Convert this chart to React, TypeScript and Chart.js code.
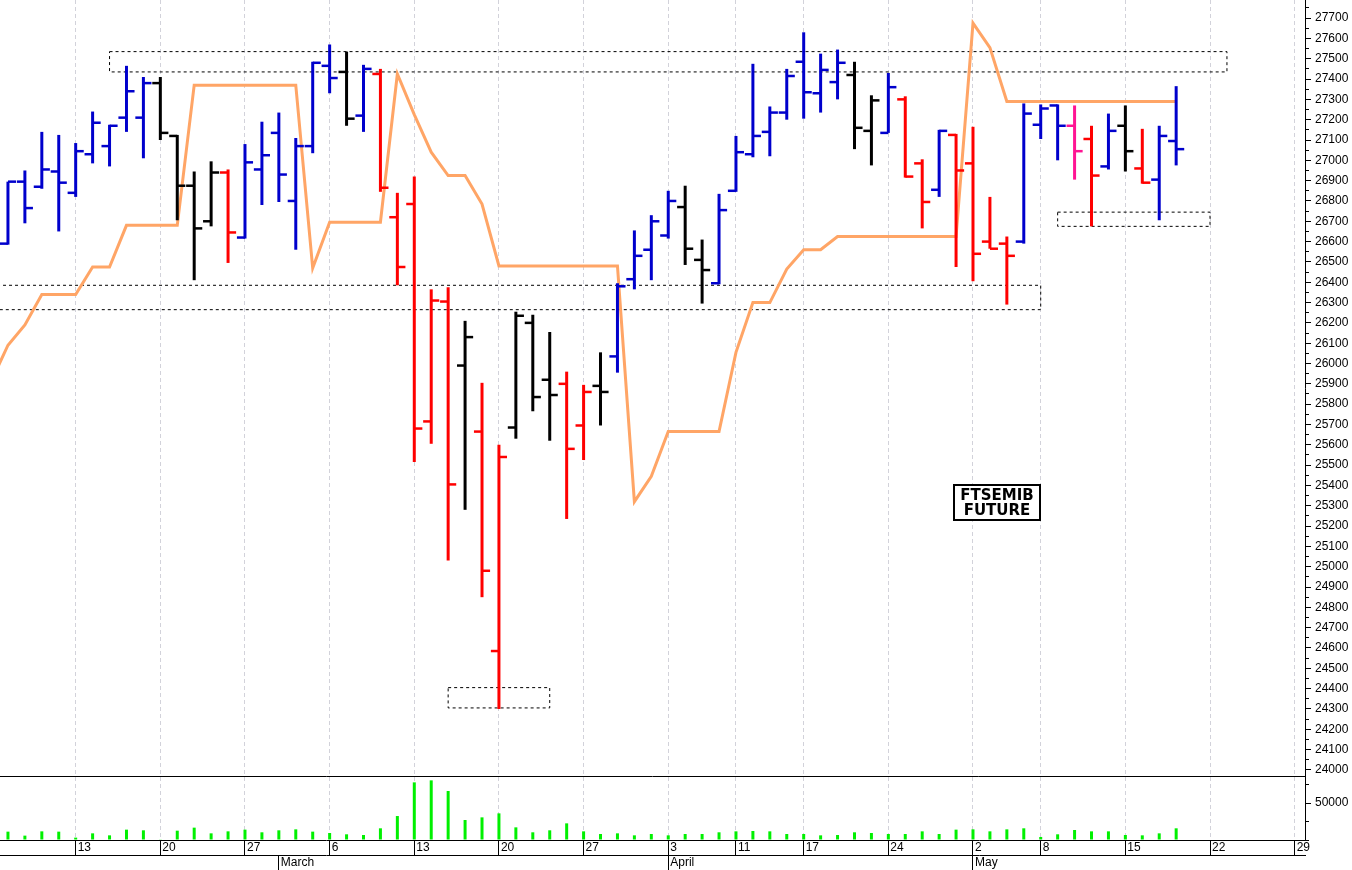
import React, { useEffect, useRef } from 'react';
import { Chart, registerables } from 'chart.js';

Chart.register(...registerables);

// Trading days (2023) shown on the time axis, including the empty days to the right
const DATES: string[] = [
  '02-06', '02-07', '02-08', '02-09', '02-10', '02-13', '02-14', '02-15', '02-16', '02-17',
  '02-20', '02-21', '02-22', '02-23', '02-24', '02-27', '02-28',
  '03-01', '03-02', '03-03', '03-06', '03-07', '03-08', '03-09', '03-10', '03-13', '03-14', '03-15', '03-16', '03-17',
  '03-20', '03-21', '03-22', '03-23', '03-24', '03-27', '03-28', '03-29', '03-30', '03-31',
  '04-03', '04-04', '04-05', '04-06', '04-11', '04-12', '04-13', '04-14', '04-17', '04-18', '04-19', '04-20', '04-21',
  '04-24', '04-25', '04-26', '04-27', '04-28',
  '05-02', '05-03', '05-04', '05-05', '05-08', '05-09', '05-10', '05-11', '05-12', '05-15', '05-16', '05-17', '05-18',
  '05-19', '05-22', '05-23', '05-24', '05-25', '05-26', '05-29',
];

const OPEN: (number | null)[] = [
  null, 26590, 26895, 26870, 26945, 26840, 27030, 27070, 27210, 27210,
  27380, 27120, 26875, 26700, 26940, 26620, 26955,
  27135, 26800, 27070, 27465, 27435, 27220, 27425, 26720, 26785, 25715, 26305, 25990, 25665,
  24585, 25685, 26200, 25920, 25900, 25695, 25890, 26035, 26415, 26560,
  26630, 26770, 26510, 26395, 26850, 27030, 27140, 27235, 27485, 27330, 27385, 27420, 27145,
  27135, 27300, 26985, 26855, 27125,
  26985, 26600, 26590, 26600, 27175, 27270, 27170, 27105, 26970, 27170, 26960, 26905, 27095,
];
const HIGH: (number | null)[] = [
  null, 26895, 26950, 27140, 27125, 27085, 27240, 27175, 27465, 27410,
  27410, 27125, 26945, 26995, 26955, 27080, 27190,
  27235, 27110, 27485, 27570, 27535, 27470, 27450, 26840, 26920, 26365, 26375, 26210, 25905,
  25600, 26255, 26240, 26155, 25960, 25895, 26055, 26395, 26655, 26730,
  26850, 26875, 26610, 26835, 27120, 27475, 27265, 27450, 27630, 27525, 27545, 27485, 27320,
  27430, 27315, 27005, 27150, 27130,
  27165, 26820, 26625, 27280, 27275, 27275, 27270, 27170, 27230, 27270, 27155, 27170, 27365,
];
const LOW: (number | null)[] = [
  null, 26585, 26690, 26860, 26650, 26820, 26985, 26970, 27140, 27010,
  27100, 26705, 26410, 26675, 26495, 26615, 26780,
  26795, 26560, 27035, 27330, 27170, 27140, 26845, 26385, 25515, 25605, 25030, 25280, 24850,
  24300, 25630, 25765, 25620, 25235, 25525, 25695, 25955, 26365, 26410,
  26615, 26485, 26295, 26390, 26845, 27015, 27020, 27200, 27205, 27235, 27300, 27055, 26975,
  27135, 26915, 26665, 26820, 26475,
  26405, 26565, 26290, 26590, 27105, 27000, 26905, 26675, 26955, 26945, 26885, 26705, 26975,
];
const CLOSE: (number | null)[] = [
  null, 26895, 26765, 26955, 26890, 27045, 27185, 27170, 27340, 27380,
  27135, 26875, 26665, 26940, 26645, 26990, 27025,
  26930, 27070, 27480, 27405, 27205, 27450, 26865, 26475, 25680, 26310, 25405, 26130, 24980,
  25540, 26235, 25835, 25845, 25580, 25860, 25860, 26380, 26530, 26700,
  26800, 26565, 26460, 26755, 27040, 27120, 27235, 27415, 27335, 27445, 27480, 27160, 27295,
  27360, 26920, 26795, 27145, 26950,
  26540, 26565, 26530, 27230, 27255, 27170, 27045, 26925, 27145, 27045, 26890, 27120, 27055,
];
// b = blue, k = black, r = red, p = pink
const BAR_COLOR: string[] = [
  '', 'b', 'b', 'b', 'b', 'b', 'b', 'b', 'b', 'b',
  'k', 'k', 'k', 'k', 'r', 'b', 'b',
  'b', 'b', 'b', 'b', 'k', 'b', 'r', 'r', 'r', 'r', 'r', 'k', 'r',
  'r', 'k', 'k', 'k', 'r', 'r', 'k', 'b', 'b', 'b',
  'b', 'k', 'k', 'b', 'b', 'b', 'b', 'b', 'b', 'b', 'b', 'k', 'k',
  'b', 'r', 'r', 'b', 'r',
  'r', 'r', 'r', 'b', 'b', 'b', 'p', 'r', 'b', 'k', 'r', 'b', 'b',
];
// Orange trailing line
const TREND: number[] = [
  25910, 26090, 26190, 26340, 26340, 26340, 26475, 26475, 26680, 26680,
  26680, 26680, 27370, 27370, 27370, 27370, 27370,
  27370, 27370, 26470, 26695, 26695, 26695, 26695, 27425, 27225, 27040, 26925, 26925, 26785,
  26480, 26480, 26480, 26480, 26480, 26480, 26480, 26480, 25320, 25445,
  25665, 25665, 25665, 25665, 26055, 26300, 26300, 26465, 26560, 26560, 26625, 26625, 26625,
  26625, 26625, 26625, 26625, 26625,
  27675, 27555, 27290, 27290, 27290, 27290, 27290, 27290, 27290, 27290, 27290, 27290, 27290,
];
const VOLUME: (number | null)[] = [
  null, 11300, 5900, 11700, 11300, 3200, 9000, 6300, 14000, 13100,
  900, 12600, 16700, 9000, 11700, 14000, 10400,
  13100, 14400, 11300, 9500, 7700, 6800, 15800, 32400, 77900, 80600, 66200, 27000, 30600,
  36000, 17100, 10400, 13100, 22500, 11700, 8100, 9000, 6300, 8100,
  6300, 8100, 8100, 10400, 11700, 12200, 11700, 8100, 8100, 6300, 6800, 10400, 9500,
  8100, 8100, 11700, 8100, 14000,
  14400, 11700, 14400, 15800, 4100, 7700, 13500, 11700, 11700, 6800, 6300, 9000, 15800,
];

// Dashed zones
const BOX_START: string[] = ['02-15', '02-06', '03-15', '05-09'];
const BOX_END: string[] = ['05-23', '05-08', '03-23', '05-22'];
const BOX_HIGH: number[] = [27535, 26385, 24405, 26745];
const BOX_LOW: number[] = [27435, 26265, 24305, 26675];

// Axis labels
const WEEK_TICK_DATES: string[] = ['02-13', '02-20', '02-27', '03-06', '03-13', '03-20', '03-27', '04-03', '04-11', '04-17', '04-24', '05-02', '05-08', '05-15', '05-22', '05-29'];
const WEEK_TICK_LABELS: string[] = ['13', '20', '27', '6', '13', '20', '27', '3', '11', '17', '24', '2', '8', '15', '22', '29'];
const MONTH_TICK_DATES: string[] = ['03-01', '04-03', '05-02'];
const MONTH_TICK_LABELS: string[] = ['March', 'April', 'May'];
const VOLUME_TICKS: number[] = [0, 25000, 50000, 75000];
const VOLUME_LABELLED: number[] = [50000];
const LABEL_LINES: string[] = ['FTSEMIB', 'FUTURE'];

// View window / styles
const X_MIN = 0.53;
const X_MAX = 77.61;
const PRICE_MIN = 23970;
const PRICE_MAX = 27789;
const PRICE_STEP = 50;
const PRICE_LABEL_STEP = 100;
const VOL_MAX = 86500;
const TICK_SHIFT = 0.24;
const PALETTE: Record<string, string> = { b: '#0000CC', k: '#000000', r: '#FF0000', p: '#FF1493' };
const ORANGE = '#FFA566';
const GREEN = '#00F000';
const FONT = "'Liberation Sans', Arial, sans-serif";

const overlayPlugin = {
  id: 'overlay',
  afterDraw(chart: any) {
    const { ctx, chartArea } = chart;
    const yv = chart.scales.yv;
    ctx.save();
    ctx.strokeStyle = '#000';
    ctx.lineWidth = 1;
    ctx.beginPath();
    const yy = Math.round(yv.top) + 0.5;
    ctx.moveTo(chartArea.left, yy);
    ctx.lineTo(chartArea.right, yy);
    ctx.stroke();
    // name box
    const bx = 954, by = 485, bw = 86, bh = 35;
    ctx.fillStyle = '#fff';
    ctx.fillRect(bx, by, bw, bh);
    ctx.lineWidth = 2;
    ctx.strokeRect(bx, by, bw, bh);
    ctx.fillStyle = '#000';
    ctx.font = "bold 15px 'DejaVu Sans', sans-serif";
    ctx.textAlign = 'center';
    ctx.textBaseline = 'middle';
    ctx.fillText(LABEL_LINES[0], bx + bw / 2, by + 11);
    ctx.fillText(LABEL_LINES[1], bx + bw / 2, by + 26.5);
    ctx.restore();
  },
};

export default function App() {
  const ref = useRef<HTMLCanvasElement>(null);

  useEffect(() => {
    document.body.style.margin = '0';
    const canvas = ref.current;
    if (!canvas) return;
    Chart.defaults.font.family = FONT;

    const days = OPEN.map((v, i) => (v == null ? -1 : i)).filter((i) => i >= 0);
    const colors = days.map((i) => PALETTE[BAR_COLOR[i]]);

    const boxSets = BOX_START.map((s, k) => {
      const x1 = DATES.indexOf(s);
      const x2 = DATES.indexOf(BOX_END[k]);
      return {
        type: 'line',
        label: 'zone' + k,
        data: [
          { x: x1, y: BOX_HIGH[k] }, { x: x2, y: BOX_HIGH[k] }, { x: x2, y: BOX_LOW[k] },
          { x: x1, y: BOX_LOW[k] }, { x: x1, y: BOX_HIGH[k] },
        ],
        borderColor: '#000',
        borderWidth: 1,
        borderDash: [3, 3],
        pointRadius: 0,
        fill: false,
        tension: 0,
        xAxisID: 'x',
        yAxisID: 'y',
      };
    });

    const datasets: any[] = [
      {
        type: 'scatter', label: 'open',
        data: days.map((i) => ({ x: i - TICK_SHIFT, y: OPEN[i] })),
        pointStyle: 'line', pointRadius: 4, pointHoverRadius: 4, pointBorderWidth: 2.5,
        pointBorderColor: colors, pointBackgroundColor: colors,
        xAxisID: 'x', yAxisID: 'y',
      },
      {
        type: 'scatter', label: 'close',
        data: days.map((i) => ({ x: i + TICK_SHIFT, y: CLOSE[i] })),
        pointStyle: 'line', pointRadius: 4, pointHoverRadius: 4, pointBorderWidth: 2.5,
        pointBorderColor: colors, pointBackgroundColor: colors,
        xAxisID: 'x', yAxisID: 'y',
      },
      {
        type: 'bar', label: 'range',
        data: days.map((i) => ({ x: i, y: [LOW[i], HIGH[i]] })),
        backgroundColor: colors, borderWidth: 0, grouped: false, maxBarThickness: 3,
        xAxisID: 'x', yAxisID: 'y',
      },
      {
        type: 'line', label: 'trend',
        data: TREND.map((v, i) => ({ x: i, y: v })),
        borderColor: ORANGE, borderWidth: 3, pointRadius: 0, fill: false, tension: 0,
        xAxisID: 'x', yAxisID: 'y',
      },
      ...boxSets,
      {
        type: 'bar', label: 'volume',
        data: days.map((i) => ({ x: i, y: VOLUME[i] })),
        backgroundColor: GREEN, borderWidth: 0, grouped: false, maxBarThickness: 3,
        xAxisID: 'x', yAxisID: 'yv',
      },
    ];

    const zeroPad = (s: any) => {
      s.paddingLeft = 0; s.paddingRight = 0; s.paddingTop = 0; s.paddingBottom = 0;
    };

    const priceTicks = (s: any) => {
      const out: { value: number }[] = [];
      for (let v = Math.ceil(s.min / PRICE_STEP) * PRICE_STEP; v <= s.max; v += PRICE_STEP) out.push({ value: v });
      s.ticks = out;
    };

    const chart = new Chart(canvas, {
      type: 'line',
      data: { datasets },
      plugins: [overlayPlugin],
      options: {
        responsive: false,
        animation: false,
        events: [],
        layout: { padding: 0, autoPadding: false },
        plugins: { legend: { display: false }, tooltip: { enabled: false }, title: { display: false } },
        scales: {
          x: {
            type: 'linear', position: 'bottom', min: X_MIN, max: X_MAX, bounds: 'data', offset: false,
            afterBuildTicks: (s: any) => { s.ticks = WEEK_TICK_DATES.map((d) => ({ value: DATES.indexOf(d) })); },
            afterFit: (s: any) => { s.height = 15; zeroPad(s); },
            grid: {
              offset: false, drawOnChartArea: true, drawTicks: true, tickLength: 15,
              color: '#D2D2DA', lineWidth: 1, tickColor: '#000', tickWidth: 1,
            },
            border: { display: true, color: '#000', width: 1, dash: [4, 3] },
            ticks: {
              autoSkip: false, maxRotation: 0, minRotation: 0, align: 'start', labelOffset: 2,
              padding: -15, color: '#000', font: { size: 12, family: FONT },
              callback: (_v: any, i: number) => WEEK_TICK_LABELS[i] ?? '',
            },
          },
          xm: {
            type: 'linear', position: 'bottom', min: X_MIN, max: X_MAX, bounds: 'data', offset: false,
            afterBuildTicks: (s: any) => { s.ticks = MONTH_TICK_DATES.map((d) => ({ value: DATES.indexOf(d) })); },
            afterFit: (s: any) => { s.height = 15; zeroPad(s); },
            grid: { offset: false, drawOnChartArea: false, drawTicks: true, tickLength: 15, tickColor: '#000', tickWidth: 1 },
            border: { display: true, color: '#000', width: 1 },
            ticks: {
              autoSkip: false, maxRotation: 0, minRotation: 0, align: 'start', labelOffset: 2,
              padding: -15, color: '#000', font: { size: 12, family: FONT },
              callback: (_v: any, i: number) => MONTH_TICK_LABELS[i] ?? '',
            },
          },
          y: {
            type: 'linear', position: 'right', stack: 'panels', stackWeight: 776,
            min: PRICE_MIN, max: PRICE_MAX, bounds: 'data', beginAtZero: false,
            afterBuildTicks: priceTicks,
            afterFit: (s: any) => { s.width = 47; zeroPad(s); },
            grid: {
              drawOnChartArea: false, drawTicks: true, tickLength: 6, tickColor: '#000', tickWidth: 1,
              tickBorderDash: (ctx: any) => (ctx.tick && ctx.tick.value % PRICE_LABEL_STEP !== 0 ? [3, 10] : []),
            },
            border: { display: true, color: '#000', width: 1 },
            ticks: {
              autoSkip: false, padding: 4, color: '#000',
              font: { size: 12, family: FONT },
              callback: (v: any) => (v % PRICE_LABEL_STEP === 0 ? String(v) : ''),
            },
          },
          yv: {
            type: 'linear', position: 'right', stack: 'panels', stackWeight: 64,
            min: 0, max: VOL_MAX, bounds: 'data', beginAtZero: true,
            afterBuildTicks: (s: any) => { s.ticks = VOLUME_TICKS.map((v) => ({ value: v })); },
            afterFit: (s: any) => { s.width = 47; zeroPad(s); },
            grid: {
              drawOnChartArea: false, drawTicks: true, tickLength: 6, tickColor: '#000', tickWidth: 1,
              tickBorderDash: (ctx: any) => (ctx.tick && VOLUME_LABELLED.indexOf(ctx.tick.value) < 0 ? [3, 10] : []),
            },
            border: { display: true, color: '#000', width: 1 },
            ticks: {
              autoSkip: false, padding: 4, color: '#000',
              font: { size: 12, family: FONT },
              callback: (v: any) => (VOLUME_LABELLED.indexOf(v) >= 0 ? String(v) : ''),
            },
          },
        },
      } as any,
    } as any);

    return () => chart.destroy();
  }, []);

  return (
    <div style={{ width: 1352, height: 870, overflow: 'hidden', background: '#fff' }}>
      <canvas ref={ref} width={1352} height={870} style={{ display: 'block', width: 1352, height: 870 }} />
    </div>
  );
}
